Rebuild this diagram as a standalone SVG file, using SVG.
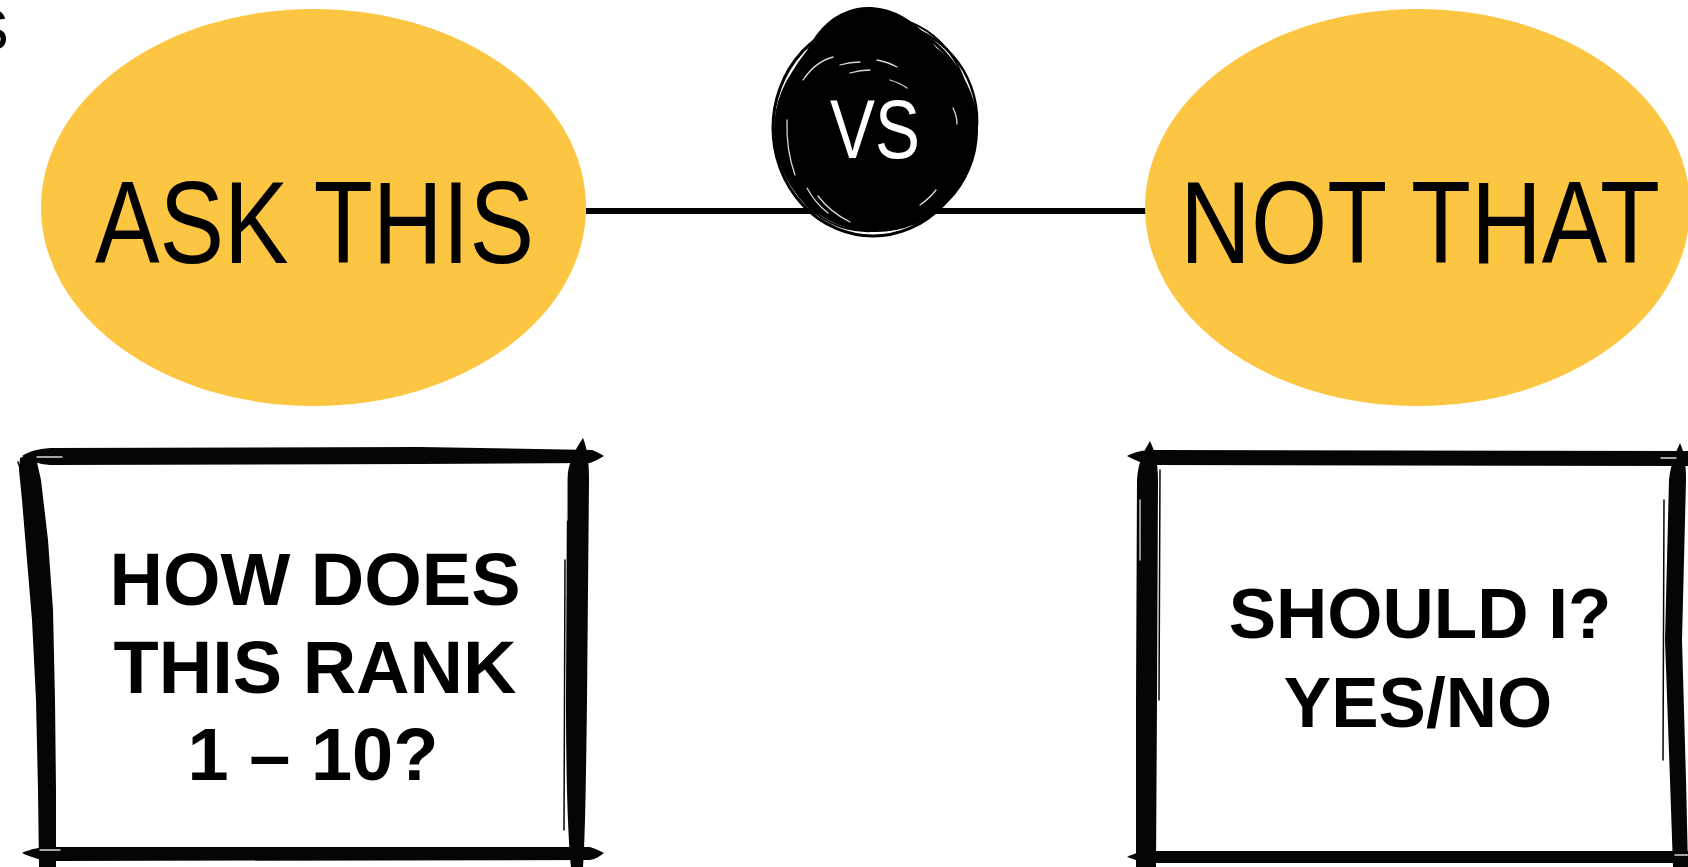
<svg xmlns="http://www.w3.org/2000/svg" width="1688" height="867" viewBox="0 0 1688 867">
  <style>
    .bg { fill: #ffffff; }
    .oval { fill: #FCC542; }
    .big { font-family: "Liberation Sans Narrow", "Liberation Sans", Arial, sans-serif; font-size: 117px; fill: #000000; }
    .vs { font-family: "Liberation Sans Narrow", "Liberation Sans", Arial, sans-serif; font-size: 84px; fill: #ffffff; }
    .box-text { font-family: "Liberation Sans", Arial, sans-serif; font-weight: bold; fill: #000000; text-anchor: middle; }
    .brush { fill: #050505; }
    .thin { fill: none; stroke: #050505; stroke-width: 1.5; stroke-linecap: round; }
    .hi { fill: none; stroke: #ffffff; stroke-width: 1.3; stroke-linecap: round; opacity: 0.85; }
    .conn { stroke: #000000; stroke-width: 6; fill: none; }
    .corner { font-family: "Liberation Sans", Arial, sans-serif; font-size: 58px; fill: #000000; }
  </style>

  <rect class="bg" x="0" y="0" width="1688" height="867"/>

  <text class="corner" x="-30" y="50">S</text>

  <g id="connectors">
    <line class="conn" x1="586" y1="211" x2="1146" y2="211"/>
  </g>

  <g id="ask-this">
    <ellipse class="oval" cx="313.5" cy="207.5" rx="272.5" ry="198.5"/>
    <text class="big" x="95" y="263" textLength="439" lengthAdjust="spacingAndGlyphs">ASK THIS</text>
  </g>

  <g id="not-that">
    <ellipse class="oval" cx="1417.5" cy="207.5" rx="272.5" ry="198.5"/>
    <text class="big" x="1180" y="263" textLength="480" lengthAdjust="spacingAndGlyphs">NOT THAT</text>
  </g>

  <g id="vs">
    <ellipse cx="876" cy="130" rx="102" ry="102" fill="#000"/>
    <ellipse cx="878" cy="112" rx="80" ry="106" transform="rotate(-12 878 112)" fill="#000"/>
    <ellipse cx="873" cy="128" rx="100" ry="108" fill="none" stroke="#000" stroke-width="3"/>
    <ellipse cx="880" cy="120" rx="97" ry="98" transform="rotate(-20 880 120)" fill="none" stroke="#000" stroke-width="2.5"/>
    <ellipse cx="874" cy="124" rx="95" ry="108" transform="rotate(15 874 124)" fill="none" stroke="#000" stroke-width="2"/>
    <path class="hi" d="M803,80 Q815,62 833,57"/>
    <path class="hi" d="M840,65 Q850,62 860,62"/>
    <path class="hi" d="M850,73 Q860,70 870,70"/>
    <path class="hi" d="M877,60 Q888,62 897,67"/>
    <path class="hi" d="M890,80 Q900,83 907,88"/>
    <path class="hi" d="M953,108 Q957,116 957,124"/>
    <path class="hi" d="M807,188 Q815,203 828,213"/>
    <path class="hi" d="M818,196 Q830,212 850,222"/>
    <path class="hi" d="M920,205 Q930,198 936,190"/>
    <path class="hi" d="M787,120 Q786,150 795,175" opacity="0.5"/>
    <text class="vs" x="830" y="158" textLength="90" lengthAdjust="spacingAndGlyphs">VS</text>
  </g>

  <g id="box-left">
    <rect x="40" y="464" width="527" height="383" fill="#ffffff"/>
    <path class="brush" d="M22,456 C30,451 38,449 50,448 L420,447 L592,450 C597,452 601,454 604,456 C600,458 596,461 590,463 L420,464 L50,465 C38,464 30,461 22,456 Z"/>
    <path class="brush" d="M22,853 C30,849 40,847 55,847 L590,847 C596,849 600,851 604,853 C600,856 596,859 590,860 L55,861 C40,860 30,857 22,853 Z"/>
    <path class="brush" d="M20,458 C24,456 30,456 36,458 L41,480 L48,540 L53,610 L55,700 L56,790 L56,867 L39,867 L38,790 L36,700 L32,620 L27,560 L22,500 L19,470 Z"/>
    <path class="brush" d="M583,438 C587,448 589,460 589,480 L587,700 C586,780 585,840 583,867 L571,867 C568,840 566,780 566,700 L567,480 C568,462 576,448 583,438 Z"/>
    <path class="thin" d="M18,462 L24,480"/>
    <path class="thin" d="M565,560 L564,830"/>
    <path class="hi" d="M37,457 L62,457"/>
    <path class="hi" d="M567,470 L567,520"/>
    <path class="hi" d="M40,850 L60,850"/>
    <text class="box-text" x="315" y="605" font-size="74">HOW DOES</text>
    <text class="box-text" x="315" y="693" font-size="74">THIS RANK</text>
    <text class="box-text" x="313" y="780" font-size="74">1 – 10?</text>
  </g>

  <g id="box-right">
    <rect x="1158" y="465" width="510" height="386" fill="#ffffff"/>
    <path class="brush" d="M1127,456 C1135,452 1142,450 1155,450 L1688,451 L1688,466 L1155,465 C1142,464 1135,460 1127,456 Z"/>
    <path class="brush" d="M1127,857 C1135,853 1142,851 1155,851 L1688,851 L1688,863 L1155,863 C1142,862 1135,860 1127,857 Z"/>
    <path class="brush" d="M1150,441 C1154,450 1158,460 1158,480 L1157,700 L1156,867 L1136,867 L1136,700 L1137,480 C1138,460 1145,450 1150,441 Z"/>
    <path class="brush" d="M1680,443 C1684,452 1686,462 1686,480 L1682,640 L1686,780 L1688,867 L1673,867 L1670,780 L1665,640 L1669,480 C1671,462 1676,452 1680,443 Z"/>
    <path class="thin" d="M1160,470 L1159,700"/>
    <path class="thin" d="M1664,500 L1663,760"/>
    <path class="hi" d="M1661,458 L1676,458"/>
    <path class="hi" d="M1140,500 L1140,560"/>
    <path class="hi" d="M1675,855 L1688,855"/>
    <text class="box-text" x="1420" y="638" font-size="71">SHOULD I?</text>
    <text class="box-text" x="1418" y="727" font-size="71">YES/NO</text>
  </g>
</svg>
